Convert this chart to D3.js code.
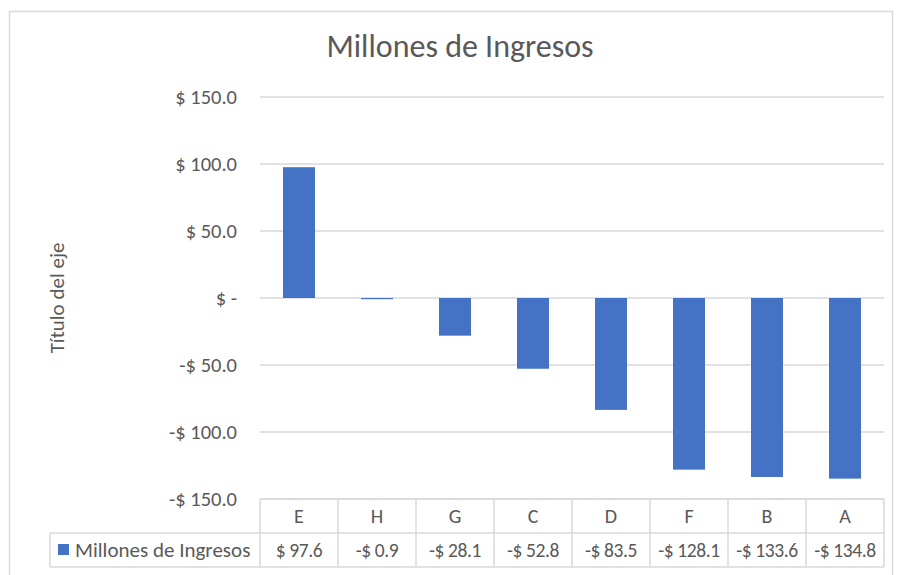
<!DOCTYPE html>
<html>
<head>
<meta charset="utf-8">
<script src="https://cdn.jsdelivr.net/npm/d3@7"></script>
<style>
  body { margin: 0; background: #fff; }
  svg { display: block; font-family: Carlito, Lato, "Open Sans", sans-serif; }
</style>
</head>
<body>
<svg width="899" height="575"></svg>
<script>
var categories = ["E", "H", "G", "C", "D", "F", "B", "A"];
var values = [97.6, -0.9, -28.1, -52.8, -83.5, -128.1, -133.6, -134.8];
var tickValues = [150, 100, 50, 0, -50, -100, -150];
var seriesName = "Millones de Ingresos";

var svg = d3.select("svg");
var textColor = "#595959";
var gridColor = "#d9d9d9";

// outer chart frame
svg.append("rect")
    .attr("x", 9.5).attr("y", 11.5)
    .attr("width", 883).attr("height", 580)
    .attr("fill", "none").attr("stroke", gridColor).attr("stroke-width", 1.5);

var x = d3.scaleBand().domain(categories).range([260, 884]).paddingInner(0.59).paddingOuter(0.295);
var band = d3.scaleBand().domain(categories).range([260, 884]);
var y = d3.scaleLinear().domain([-150, 150]).range([499, 97]);

function fmt(v) {
    if (v === 0) return "$ -";
    return (v < 0 ? "-$ " : "$ ") + Math.abs(v).toFixed(1);
}

// gridlines
svg.append("g").selectAll("line")
    .data(tickValues)
    .join("line")
    .attr("x1", 260).attr("x2", 884)
    .attr("y1", d => y(d)).attr("y2", d => y(d))
    .attr("stroke", gridColor).attr("stroke-width", 1.5);

// y tick labels
svg.append("g").selectAll("text")
    .data(tickValues)
    .join("text")
    .attr("x", 237).attr("y", d => y(d))
    .attr("dy", "0.35em")
    .attr("text-anchor", "end")
    .attr("fill", textColor)
    .attr("font-size", 20.5)
    .text(fmt);

// bars
svg.append("g").selectAll("rect")
    .data(values)
    .join("rect")
    .attr("x", (d, i) => x(categories[i]))
    .attr("width", x.bandwidth())
    .attr("y", d => y(Math.max(0, d)))
    .attr("height", d => Math.abs(y(d) - y(0)))
    .attr("fill", "#4472c4");

// title
svg.append("text")
    .attr("x", 460).attr("y", 57)
    .attr("text-anchor", "middle")
    .attr("fill", textColor)
    .attr("font-size", 32)
    .attr("font-weight", 300)
    .text(seriesName);

// axis title
svg.append("text")
    .attr("transform", "translate(57,298) rotate(-90)")
    .attr("dy", "0.35em")
    .attr("text-anchor", "middle")
    .attr("fill", textColor)
    .attr("font-size", 21)
    .text("Título del eje");

// data table
var rowTop = 499, rowMid = 533, rowBot = 567;
var table = svg.append("g")
    .attr("stroke", gridColor).attr("stroke-width", 1.5).attr("fill", "none");
table.append("line").attr("x1", 260).attr("x2", 884).attr("y1", rowTop).attr("y2", rowTop);
table.append("line").attr("x1", 50).attr("x2", 884).attr("y1", rowMid).attr("y2", rowMid);
table.append("line").attr("x1", 50).attr("x2", 884).attr("y1", rowBot).attr("y2", rowBot);
table.append("line").attr("x1", 50).attr("x2", 50).attr("y1", rowMid).attr("y2", rowBot);
table.selectAll(".v")
    .data(categories.concat(["end"]))
    .join("line")
    .attr("x1", (d, i) => 260 + i * band.bandwidth())
    .attr("x2", (d, i) => 260 + i * band.bandwidth())
    .attr("y1", rowTop).attr("y2", rowBot);

svg.append("g").selectAll("text")
    .data(categories)
    .join("text")
    .attr("x", d => band(d) + band.bandwidth() / 2)
    .attr("y", (rowTop + rowMid) / 2)
    .attr("dy", "0.35em")
    .attr("text-anchor", "middle")
    .attr("fill", textColor)
    .attr("font-size", 20)
    .text(d => d);

svg.append("g").selectAll("text")
    .data(values)
    .join("text")
    .attr("x", (d, i) => band(categories[i]) + band.bandwidth() / 2)
    .attr("y", (rowMid + rowBot) / 2)
    .attr("dy", "0.35em")
    .attr("text-anchor", "middle")
    .attr("fill", textColor)
    .attr("font-size", 19.5)
    .attr("letter-spacing", -0.4)
    .text(fmt);

// legend key
svg.append("rect")
    .attr("x", 58).attr("y", 544)
    .attr("width", 11).attr("height", 11)
    .attr("fill", "#4472c4");
svg.append("text")
    .attr("x", 75).attr("y", (rowMid + rowBot) / 2)
    .attr("dy", "0.35em")
    .attr("fill", textColor)
    .attr("font-size", 21)
    .text(seriesName);
</script>
</body>
</html>
